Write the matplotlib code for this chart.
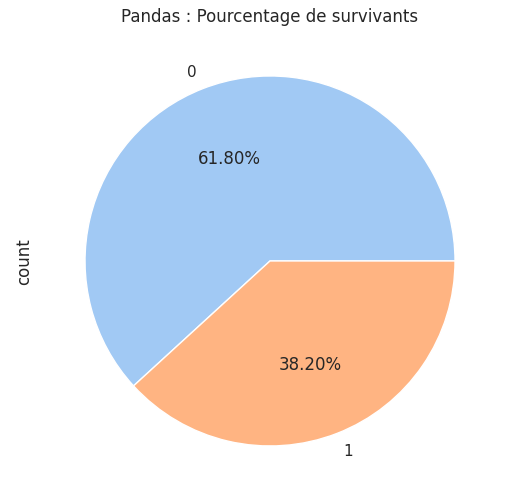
import matplotlib
matplotlib.use('Agg')
import matplotlib.pyplot as plt
import seaborn as sns

sns.set_theme(style='whitegrid', palette='pastel')

# survived counts
labels = ['0', '1']
counts = [550, 340]

colors = sns.color_palette('pastel')

fig = plt.figure(figsize=(5.1, 5.02), dpi=100)
ax = fig.add_axes([0.076, 0.0175, 0.9069, 0.9213])
ax.pie(counts, labels=labels, autopct='%.2f%%', colors=colors[:2],
       wedgeprops={'edgecolor': 'white', 'linewidth': 1})
ax.set_ylabel('count')
ax.set_title('Pandas : Pourcentage de survivants')

plt.savefig('out.png', dpi=100)
